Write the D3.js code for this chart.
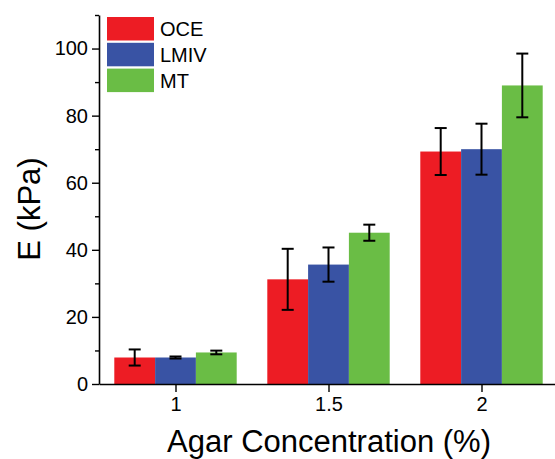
<!DOCTYPE html>
<html>
<head>
<meta charset="utf-8">
<script src="https://cdn.jsdelivr.net/npm/d3@7"></script>
<style>
  body { margin: 0; background: #fff; }
  text { font-family: "Liberation Sans", Arial, sans-serif; fill: #000; }
</style>
</head>
<body>
<script>
var width = 555,
    height = 459;

// agar concentration (%) per group
var concentrations = [1, 1.5, 2];
var tickLabels = ["1", "1.5", "2"];

// E (kPa), mean and error per method
var series = ["OCE", "LMIV", "MT"];
var oce = [7.9, 31.2, 69.3],
    oceErr = [2.4, 9.1, 7.0];
var lmiv = [7.9, 35.6, 70.0],
    lmivErr = [0.3, 5.1, 7.6];
var mt = [9.4, 45.1, 89.0],
    mtErr = [0.55, 2.4, 9.5];

var colors = ["#ED1C24", "#3953A4", "#6ABD45"];
var values = [oce, lmiv, mt];
var errors = [oceErr, lmivErr, mtErr];

var groupWidth = 0.4,
    barWidth = groupWidth / series.length;

var x = d3.scaleLinear().domain([0.75, 2.25]).range([99, 558]);
var y = d3.scaleLinear().domain([0, 110]).range([384, 15]);

var svg = d3.select("body").append("svg")
    .attr("width", width)
    .attr("height", height);

// bars
var bars = [];
series.forEach(function(s, i) {
  concentrations.forEach(function(c, j) {
    bars.push({ s: i, c: c, v: values[i][j], e: errors[i][j] });
  });
});

svg.selectAll(".bar")
    .data(bars)
  .enter().append("rect")
    .attr("class", "bar")
    .attr("x", function(d) { return x(d.c - groupWidth / 2 + d.s * barWidth); })
    .attr("width", function(d) { return x(d.c + barWidth) - x(d.c); })
    .attr("y", function(d) { return y(d.v); })
    .attr("height", function(d) { return y(0) - y(d.v); })
    .style("fill", function(d) { return colors[d.s]; });

// error bars
var err = svg.selectAll(".err")
    .data(bars)
  .enter().append("g")
    .attr("class", "err")
    .attr("transform", function(d) {
      return "translate(" + x(d.c - groupWidth / 2 + (d.s + 0.5) * barWidth) + ",0)";
    })
    .style("stroke", "#000")
    .style("stroke-width", 2);

err.append("line")
    .attr("y1", function(d) { return y(d.v - d.e); })
    .attr("y2", function(d) { return y(d.v + d.e); });
err.append("line")
    .attr("x1", -6).attr("x2", 6)
    .attr("y1", function(d) { return y(d.v + d.e); })
    .attr("y2", function(d) { return y(d.v + d.e); });
err.append("line")
    .attr("x1", -6).attr("x2", 6)
    .attr("y1", function(d) { return y(d.v - d.e); })
    .attr("y2", function(d) { return y(d.v - d.e); });

// y axis, minor then major ticks
svg.append("g")
    .attr("transform", "translate(99,0)")
    .call(d3.axisLeft(y).tickValues([10, 30, 50, 70, 90, 110]).tickSize(4).tickFormat(""))
    .call(function(g) { g.select(".domain").remove(); });

var yAxis = svg.append("g")
    .attr("transform", "translate(99,0)")
    .call(d3.axisLeft(y).tickValues([0, 20, 40, 60, 80, 100]).tickSize(7).tickSizeOuter(0).tickPadding(4));
yAxis.selectAll("text").style("font-size", "20px");

// x axis
var xAxis = svg.append("g")
    .attr("transform", "translate(0,384)")
    .call(d3.axisBottom(x).tickValues(concentrations).tickSize(8).tickSizeOuter(0).tickPadding(5)
      .tickFormat(function(d, i) { return tickLabels[i]; }));
xAxis.selectAll("text").style("font-size", "20px");

svg.selectAll(".domain").style("stroke", "#000").style("stroke-width", 1.6);
svg.selectAll(".tick line").style("stroke", "#000").style("stroke-width", 1.4);

// axis titles
svg.append("text")
    .attr("x", 329)
    .attr("y", 452)
    .attr("text-anchor", "middle")
    .style("font-size", "31px")
    .text("Agar Concentration (%)");

svg.append("text")
    .attr("transform", "translate(40,209) rotate(-90)")
    .attr("text-anchor", "middle")
    .style("font-size", "31px")
    .text("E (kPa)");

// legend
var legend = svg.selectAll(".legend")
    .data(series)
  .enter().append("g")
    .attr("class", "legend")
    .attr("transform", function(d, i) { return "translate(107," + (17 + i * 25.8) + ")"; });

legend.append("rect")
    .attr("width", 47)
    .attr("height", 23.5)
    .style("fill", function(d, i) { return colors[i]; });

legend.append("text")
    .attr("x", 53)
    .attr("y", 19)
    .style("font-size", "20px")
    .text(function(d) { return d; });
</script>
</body>
</html>
